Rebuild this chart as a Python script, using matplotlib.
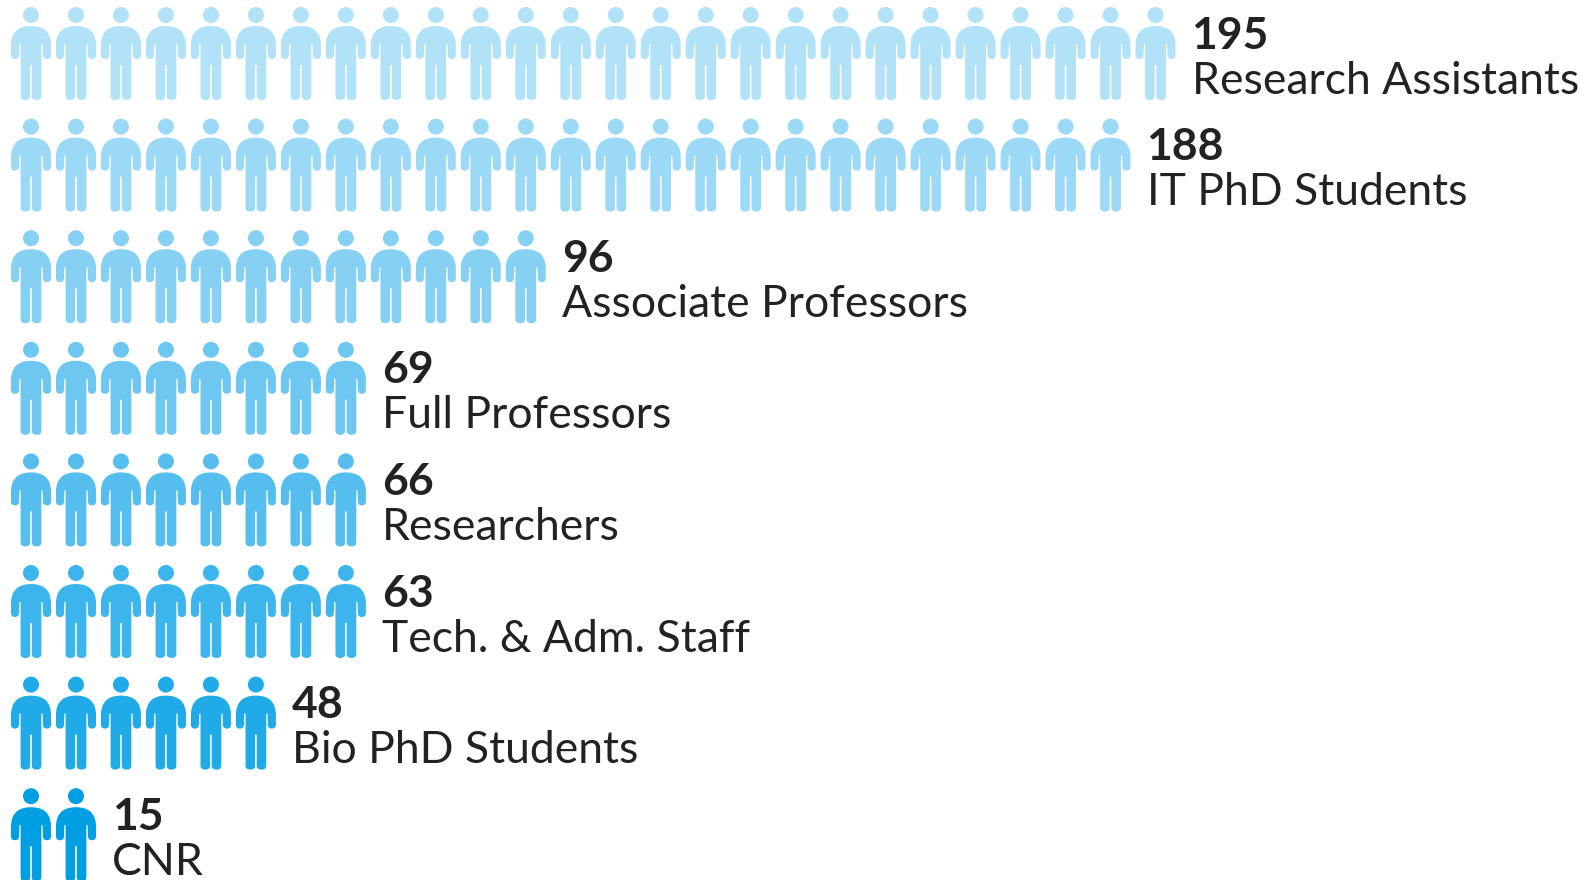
import matplotlib
matplotlib.use('Agg')
import numpy as np
from matplotlib import pyplot as plt
from matplotlib.path import Path
from matplotlib.patches import PathPatch
from matplotlib.transforms import Affine2D

labels = ['Research Assistants', 'IT PhD Students', 'Associate Professors', 'Full Professors',
          'Researchers', 'Tech. & Adm. Staff', 'Bio PhD Students', 'CNR']
values = [195, 188, 96, 69, 66, 63, 48, 15]
icons = [26, 25, 12, 8, 8, 8, 6, 2]
colors = ['#B2E2F8', '#9CD9F6', '#85D0F3', '#6DC7F1', '#55BEEE', '#3CB5EC', '#20ABE8', '#009FE3']

W, H = 1592, 880
PITCH_X, PITCH_Y = 44.98, 111.6

fig = plt.figure(figsize=(W / 100, H / 100), dpi=100)
ax = fig.add_axes([0, 0, 1, 1])
# x is in icon columns, y in rows, both scaled so that column 0 / row 0 sit at the first icon
ax.set_xlim(-31 / PITCH_X, (W - 31) / PITCH_X)
ax.set_ylim((H - 7) / PITCH_Y, -7 / PITCH_Y)
ax.axis('off')

# right half of the body, in pixels from the centre line and the top of the head
half = [(Path.MOVETO, (0, 19)), (Path.CURVE3, (9, 19)), (Path.CURVE3, (14, 23)),
        (Path.CURVE3, (20, 28)), (Path.CURVE3, (20, 38)), (Path.LINETO, (20, 48)),
        (Path.CURVE3, (20, 52)), (Path.CURVE3, (16, 52)), (Path.CURVE3, (12, 52)),
        (Path.CURVE3, (12, 48)), (Path.LINETO, (11.6, 37)), (Path.LINETO, (10.4, 37)),
        (Path.LINETO, (10.4, 89)), (Path.CURVE3, (10.4, 93)), (Path.CURVE3, (5.7, 93)),
        (Path.CURVE3, (0.8, 93)), (Path.CURVE3, (0.8, 89)), (Path.LINETO, (0.8, 58)), (Path.LINETO, (0, 58))]


def body_path():
    codes = [c for c, _ in half]
    pts = [p for _, p in half]
    # mirror: walk back along the same segments on the left side
    rev_pts = [(-x, y) for x, y in pts[::-1]][1:]
    rev_codes = codes[1:][::-1]
    return Path(np.array(pts + rev_pts), codes + rev_codes)


body = body_path()
for row, (n, col) in enumerate(zip(icons, colors)):
    for i in range(n):
        v = body.vertices / [PITCH_X, PITCH_Y] + [i, row]
        ax.add_patch(PathPatch(Path(v, body.codes), fc=col, ec='none'))
        head = Affine2D().scale(8 / PITCH_X, 8 / PITCH_Y).translate(i, row + 8 / PITCH_Y)
        ax.add_patch(PathPatch(Path.circle((0, 0), 1).transformed(head), fc=col, ec='none'))

    tx = n - 1 + (20 + 16) / PITCH_X
    ax.text(tx, row + 41.5 / PITCH_Y, str(values[row]), family='Lato', weight='bold', fontsize=32,
            color='#222222', va='baseline', ha='left')
    ax.text(tx, row + 86.5 / PITCH_Y, labels[row], family='Lato', fontsize=32,
            color='#222222', va='baseline', ha='left')

fig.savefig('out.png', dpi=100, facecolor='white')
